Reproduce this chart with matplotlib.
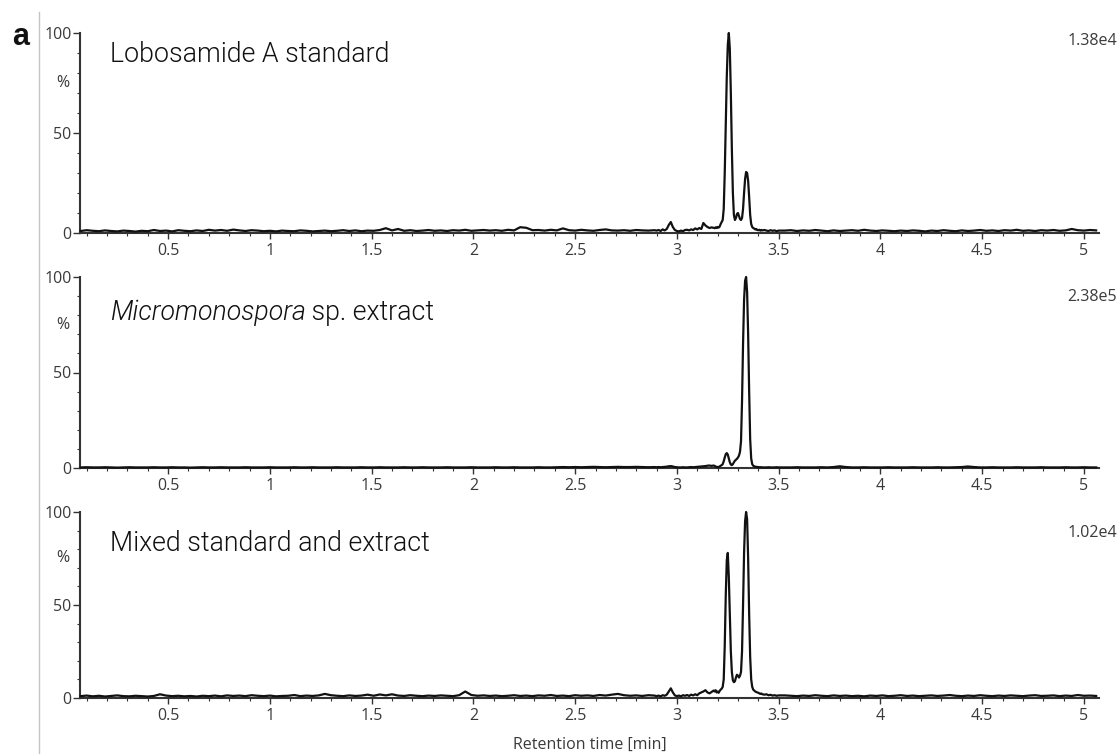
import numpy as np
import matplotlib
matplotlib.use('Agg')
import matplotlib.pyplot as plt
from matplotlib.ticker import MultipleLocator, FuncFormatter
from matplotlib.lines import Line2D

# ---------------- sample time grids (min) ----------------
TIME_A = np.round(0.07 + 0.03 * np.arange(95), 3)      # 0.07 .. 2.89
TIME_B1 = np.round(2.90 + 0.01 * np.arange(28), 3)     # 2.90 .. 3.17
TIME_B2 = np.round(3.18 + 0.005 * np.arange(49), 3)    # 3.18 .. 3.42
TIME_B3 = np.round(3.43 + 0.01 * np.arange(8), 3)      # 3.43 .. 3.50
TIME_C = np.round(3.53 + 0.03 * np.arange(52), 3)      # 3.53 .. 5.06

# ---------------- panel 1: Lobosamide A standard (%) ----------------
std_A = [1.0, 1.4, 1.1, 0.9, 1.3, 1.0, 0.8, 1.2, 1.0, 0.7,
         1.1, 0.9, 1.5, 1.0, 1.2, 0.8, 1.4, 1.1, 0.9, 1.3,
         1.0, 1.6, 1.2, 1.5, 1.1, 1.7, 1.3, 1.0, 1.4, 1.2,
         0.9, 1.1, 0.8, 1.2, 1.0, 0.9, 1.3, 1.1, 0.8, 1.0,
         1.2, 0.9, 1.1, 1.4, 1.0, 1.3, 0.9, 1.2, 1.1, 1.5,
         2.4, 1.3, 2.0, 1.1, 1.4, 1.0, 1.2, 1.5, 1.1, 1.3,
         1.0, 1.4, 1.2, 1.6, 1.1, 1.3, 1.5, 1.2, 1.4, 1.1,
         1.6, 1.3, 2.9, 2.6, 1.4, 1.5, 1.2, 1.6, 1.3, 2.3,
         1.4, 1.2, 1.6, 1.3, 1.1, 1.5, 1.8, 1.3, 1.2, 1.4,
         1.1, 1.5, 1.3, 1.2, 1.4]
std_B1 = [1.2, 1.5, 1.0, 1.8, 1.3, 2.0, 4.0, 5.5, 3.0, 1.5,
          1.0, 0.8, 1.2, 0.9, 1.5, 1.6, 1.3, 1.8, 1.5, 2.3,
          1.8, 2.5, 2.0, 5.0, 3.8, 3.0, 2.5, 2.8]
std_B2 = [2.6, 2.4, 2.8, 2.5, 3.0, 2.7, 3.2, 4.5, 5.5, 6.5,
          12, 30, 55, 78, 94, 100, 92, 70, 42, 20,
          9, 6.5, 7.5, 9.5, 10, 8.5, 7, 6.5, 7.5, 12,
          20, 27, 30.5, 30, 26, 18, 9, 4.5, 3, 2.5,
          2.2, 1.8, 2.0, 1.5, 1.4, 1.6, 1.2, 1.5, 1.3]
std_B3 = [1.5, 1.2, 1.0, 1.4, 1.1, 1.3, 0.9, 1.2]
std_C = [1.2, 1.4, 1.0, 1.3, 1.1, 1.5, 1.2, 0.9, 1.3, 1.0,
         1.2, 1.4, 1.1, 1.6, 1.2, 1.0, 1.3, 1.1, 0.9, 1.2,
         1.0, 1.3, 1.1, 0.8, 1.2, 1.0, 1.4, 1.1, 0.9, 1.3,
         1.0, 1.2, 1.5, 1.1, 1.3, 1.0, 1.4, 1.2, 1.6, 1.1,
         1.3, 1.0, 1.4, 1.2, 1.5, 1.1, 1.3, 2.0, 1.4, 1.2,
         1.5, 1.3]

# ---------------- panel 2: Micromonospora sp. extract (%) ----------------
ext_A = [0.3, 0.4, 0.3, 0.3, 0.4, 0.3, 0.2, 0.3, 0.4, 0.3,
         0.3, 0.3, 0.4, 0.3, 0.3, 0.4, 0.3, 0.3, 0.2, 0.3,
         0.4, 0.3, 0.3, 0.4, 0.3, 0.3, 0.3, 0.4, 0.3, 0.3,
         0.3, 0.4, 0.3, 0.3, 0.3, 0.4, 0.3, 0.3, 0.4, 0.3,
         0.3, 0.3, 0.4, 0.3, 0.3, 0.3, 0.4, 0.3, 0.3, 0.4,
         0.3, 0.3, 0.3, 0.4, 0.3, 0.3, 0.4, 0.3, 0.3, 0.3,
         0.4, 0.3, 0.3, 0.3, 0.4, 0.3, 0.3, 0.3, 0.4, 0.3,
         0.3, 0.4, 0.3, 0.3, 0.3, 0.4, 0.3, 0.3, 0.4, 0.5,
         0.4, 0.5, 0.4, 0.5, 0.6, 0.5, 0.4, 0.5, 0.6, 0.5,
         0.5, 0.6, 0.5, 0.4, 0.5]
ext_B1 = [0.4, 0.5, 0.4, 0.5, 0.6, 0.7, 0.9, 1.0, 0.8, 0.5,
          0.4, 0.3, 0.3, 0.4, 0.3, 0.3, 0.4, 0.5, 0.4, 0.5,
          0.6, 0.7, 0.8, 0.9, 1.0, 1.2, 1.3, 1.1]
ext_B2 = [1.3, 1.1, 0.8, 0.6, 0.5, 0.5, 0.8, 1.2, 1.5, 2.0,
          3.5, 5.5, 7.2, 7.8, 7.0, 5.0, 3.0, 1.8, 1.5, 2.0,
          3.0, 3.8, 4.3, 4.8, 5.5, 6.5, 8.5, 14, 35, 65,
          88, 98, 100, 92, 70, 40, 15, 5, 2.0, 1.2,
          0.9, 0.7, 0.6, 0.5, 0.5, 0.4, 0.4, 0.4, 0.3]
ext_B3 = [0.3, 0.3, 0.4, 0.3, 0.3, 0.3, 0.4, 0.3]
ext_C = [0.3, 0.3, 0.4, 0.3, 0.3, 0.3, 0.4, 0.3, 0.5, 0.9,
         0.5, 0.3, 0.3, 0.4, 0.3, 0.3, 0.3, 0.4, 0.3, 0.3,
         0.3, 0.4, 0.3, 0.3, 0.3, 0.4, 0.3, 0.3, 0.4, 0.5,
         0.8, 0.5, 0.3, 0.3, 0.4, 0.3, 0.3, 0.3, 0.4, 0.3,
         0.3, 0.3, 0.4, 0.3, 0.3, 0.3, 0.4, 0.3, 0.3, 0.4,
         0.3, 0.3]

# ---------------- panel 3: Mixed standard and extract (%) ----------------
mix_A = [1.0, 1.3, 0.9, 1.2, 0.8, 1.1, 1.4, 1.0, 0.9, 1.2,
         1.0, 0.8, 1.1, 2.0, 1.3, 1.0, 1.2, 0.9, 1.1, 0.8,
         1.2, 1.0, 1.3, 0.9, 1.4, 1.1, 1.3, 1.0, 1.5, 1.2,
         1.0, 1.3, 0.9, 1.1, 1.2, 1.6, 1.0, 1.3, 1.1, 1.4,
         2.2, 1.5, 1.2, 1.0, 1.4, 1.1, 1.3, 1.8, 1.2, 1.9,
         1.4, 2.0, 1.3, 1.1, 1.5, 1.2, 1.0, 1.3, 1.1, 1.4,
         1.2, 1.0, 1.5, 3.5, 1.6, 1.2, 1.4, 1.1, 1.3, 1.0,
         1.2, 1.5, 1.1, 1.3, 1.0, 1.4, 1.2, 1.6, 1.1, 1.3,
         1.0, 1.5, 1.2, 1.4, 1.1, 1.6, 1.3, 1.8, 2.2, 1.5,
         1.2, 1.4, 1.1, 1.5, 1.3]
mix_B1 = [1.0, 1.3, 0.9, 1.5, 1.2, 1.8, 3.5, 5.2, 3.0, 1.4,
          1.0, 1.3, 0.9, 1.5, 1.2, 1.6, 1.1, 1.8, 1.4, 2.0,
          1.5, 2.5, 3.0, 3.5, 4.2, 3.0, 2.5, 3.2]
mix_B2 = [4.0, 3.5, 4.2, 3.0, 3.5, 2.8, 3.8, 4.5, 5.0, 6.0,
          10, 28, 55, 74, 78, 65, 45, 25, 14, 9.5,
          8.5, 9, 11, 12.5, 12, 11, 12, 14, 25, 50,
          78, 95, 100, 96, 75, 45, 22, 10, 6, 4.5,
          4, 3.5, 3.2, 3.0, 2.8, 2.5, 2.2, 2.4, 2.0]
mix_B3 = [1.8, 2.0, 1.5, 1.7, 1.3, 1.5, 1.2, 1.4]
mix_C = [1.4, 1.2, 1.0, 1.3, 1.1, 1.5, 1.2, 1.0, 1.4, 1.1,
         1.3, 1.0, 1.2, 0.9, 1.3, 1.1, 1.4, 1.0, 1.2, 1.5,
         1.1, 1.3, 1.0, 1.2, 1.4, 1.1, 1.3, 1.6, 1.2, 1.0,
         1.3, 1.1, 1.5, 1.2, 1.0, 1.3, 1.1, 1.4, 1.2, 1.0,
         1.3, 1.5, 1.1, 1.2, 1.4, 1.0, 1.3, 1.1, 1.6, 1.2,
         1.3, 1.1]

titles = ["Lobosamide A standard", None, "Mixed standard and extract"]
scales = ["1.38e4", "2.38e5", "1.02e4"]
x_label = "Retention time [min]"

time = np.concatenate([TIME_A, TIME_B1, TIME_B2, TIME_B3, TIME_C])
series = []
for parts in [(std_A, std_B1, std_B2, std_B3, std_C),
              (ext_A, ext_B1, ext_B2, ext_B3, ext_C),
              (mix_A, mix_B1, mix_B2, mix_B3, mix_C)]:
    vals = np.concatenate([np.asarray(p, float) for p in parts])
    assert len(vals) == len(time), (len(vals), len(time))
    series.append(vals)

# ---------------- layout ----------------
W, H = 1120, 754
fig = plt.figure(figsize=(W / 100, H / 100), dpi=100)

def fy(py):
    return 1 - py / H

left_px, right_px = 80, 1099
boxes = [(33, 233), (277, 468), (512, 698)]
title_base = [0.857, 0.775, 0.792]
scale_y = [0.96, 0.895, 0.887]

tick_family = ['Open Sans', 'DejaVu Sans']
title_family = ['Roboto', 'DejaVu Sans']
title_weight = 300
title_size = 19.3
small = 11.5
axc = '#333333'
txtc = '#3a3a3a'

axes = []
for i, (top, bot) in enumerate(boxes):
    ax = fig.add_axes([left_px / W, fy(bot), (right_px - left_px) / W, (bot - top) / H])
    axes.append(ax)
    ax.plot(time, series[i], color='#111111', lw=1.6, clip_on=False, zorder=3)
    ax.set_xlim(0.067, 5.074)
    ax.set_ylim(0, 100)
    for s in ['top', 'right']:
        ax.spines[s].set_visible(False)
    for s in ['left', 'bottom']:
        ax.spines[s].set_color(axc)
        ax.spines[s].set_linewidth(1.5)
    ax.xaxis.set_major_locator(MultipleLocator(0.5))
    ax.xaxis.set_minor_locator(MultipleLocator(0.1))
    ax.yaxis.set_major_locator(MultipleLocator(50))
    ax.yaxis.set_minor_locator(MultipleLocator(10))
    ax.xaxis.set_major_formatter(FuncFormatter(lambda v, p: f"{v:g}"))
    ax.yaxis.set_major_formatter(FuncFormatter(lambda v, p: f"{v:g}"))
    ax.tick_params(axis='both', which='major', colors=axc, labelcolor=txtc,
                   labelsize=small, width=1.0)
    ax.tick_params(axis='x', which='major', length=4.5, pad=2.5)
    ax.tick_params(axis='y', which='major', length=5, pad=1)
    ax.tick_params(axis='both', which='minor', colors=axc, length=2.5, width=0.8)
    for lab in ax.get_xticklabels() + ax.get_yticklabels():
        lab.set_fontfamily(tick_family)
    # "%" axis label
    ax.text(-0.0167, 75, "%", transform=ax.get_yaxis_transform(), ha='center',
            va='center', fontsize=small, color=txtc, family=tick_family)
    # intensity scale
    ax.text(1.0177, scale_y[i], scales[i], transform=ax.transAxes, ha='right',
            va='center', fontsize=small, color=txtc, family=tick_family)
    if titles[i] is not None:
        ax.text(0.029, title_base[i], titles[i], transform=ax.transAxes,
                ha='left', va='baseline', fontsize=title_size, color='#111111',
                family=title_family, fontweight=title_weight)

# italic genus name + normal text in panel 2
ax2 = axes[1]
t1 = ax2.text(0.029, title_base[1], "Micromonospora", transform=ax2.transAxes,
              ha='left', va='baseline', fontsize=title_size, color='#111111',
              family=title_family, fontweight=title_weight, style='italic')
fig.canvas.draw()
r = fig.canvas.get_renderer()
bb = t1.get_window_extent(renderer=r)
x_end = ax2.transAxes.inverted().transform((bb.x1, bb.y0))[0]
ax2.text(x_end, title_base[1], " sp. extract", transform=ax2.transAxes,
         ha='left', va='baseline', fontsize=title_size, color='#111111',
         family=title_family, fontweight=title_weight)

# x-axis title
fig.text((left_px + right_px) / 2 / W, fy(745), x_label, ha='center', va='center',
         fontsize=small, color=txtc, family=tick_family)

# panel letter and thin gray separator line
fig.text(12 / W, fy(37), "a", ha='left', va='center', fontsize=22,
         fontweight='bold', family=['Liberation Sans', 'DejaVu Sans'], color='#111111')
fig.add_artist(Line2D([39 / W, 39 / W], [0, fy(12)], transform=fig.transFigure,
                      color='#c4c4c4', lw=1.0))

fig.savefig('out.png', dpi=100)
